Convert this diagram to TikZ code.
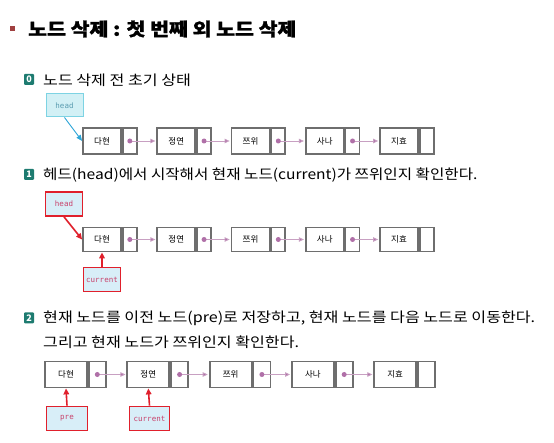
\documentclass[tikz,border=0pt]{standalone}
\usepackage{fontspec}
\setmainfont{Noto Sans CJK KR}
\newfontfamily\stepfont{Noto Sans CJK KR}[FakeStretch=1.15]
\newfontfamily\stepfontb{Noto Sans CJK KR}[FakeStretch=1.115]
\newfontfamily\titlefont{Noto Sans CJK KR}[FakeStretch=1.14, BoldFeatures={FakeBold=1.2}]
\newfontfamily\monof{DejaVu Sans Mono}
\usetikzlibrary{arrows.meta}
\definecolor{boxgray}{HTML}{6E6E6E}
\definecolor{ptrcol}{HTML}{B070A8}
\definecolor{linkcol}{HTML}{C8A0C2}
\definecolor{badgecol}{HTML}{1D7B70}
\definecolor{bulletcol}{HTML}{A04040}
\definecolor{cyanfill}{HTML}{D2F0F5}
\definecolor{cyandraw}{HTML}{7DD3E3}
\definecolor{cyantext}{HTML}{5A9CB0}
\definecolor{cyanarrow}{HTML}{2FA6D8}
\definecolor{redline}{HTML}{E0202C}
\definecolor{bluefill}{HTML}{D8EEF8}
\definecolor{redtext}{HTML}{C8406A}
\tikzset{
  datacell/.style={draw=boxgray, line width=1.8pt, fill=white, inner sep=0pt,
    font=\fontsize{8.5}{9}\selectfont},
  ptrcell/.style={draw=boxgray, line width=1.8pt, fill=white, inner sep=0pt},
  linkarrow/.style={draw=linkcol, line width=0.8pt, -{Triangle[length=5pt,width=4.5pt,fill=ptrcol]}, shorten >=1pt},
  ptrdot/.style={circle, fill=ptrcol, inner sep=0pt, minimum size=5pt},
  cyanbox/.style={draw=cyandraw, fill=cyanfill, line width=1pt, inner sep=0pt,
    minimum width=37pt, minimum height=23pt, text=cyantext, font=\monof\fontsize{7.5}{8}\selectfont},
  redbox/.style={draw=redline, fill=bluefill, line width=1.8pt, inner sep=0pt,
    minimum height=24pt, text=redtext, font=\monof\fontsize{7.5}{8}\selectfont},
  redarrow/.style={draw=redline, line width=1.6pt, -{Triangle[length=6pt,width=5.5pt]}},
  cyanarrowst/.style={draw=cyanarrow, line width=0.9pt, -{Triangle[length=6pt,width=5pt]}},
  badge/.style={fill=badgecol, rounded corners=1pt, minimum width=10pt, minimum height=11pt,
    inner sep=0pt, text=white, font=\fontsize{9}{9}\selectfont\bfseries},
  steptext/.style={anchor=west, inner sep=0pt, font=\stepfont\fontsize{14}{16}\selectfont},
}
\begin{document}
\begin{tikzpicture}[x=1pt,y=-1pt]
\useasboundingbox[fill=white] (0,0) rectangle (554,443);
% title
\fill[bulletcol] (10,26) rectangle (15,31);
\node[anchor=west, inner sep=0pt, font=\titlefont\fontsize{18}{20}\selectfont\bfseries] (title) at (28,29) {노드 삭제 : 첫 번째 외 노드 삭제};
% step 0
\node[badge] (b0) at (29,79.5) {0};
\node[steptext] (t0) at (43,80) {노드 삭제 전 초기 상태};
\foreach \t [count=\i from 0] in {다현,정연,쯔위,사나,지효} {
  \node[datacell, minimum width=38pt, minimum height=26pt] (a\i) at ({83+19+74.25*\i},141) {\t};
  \node[ptrcell, minimum width=14pt, minimum height=26pt, anchor=west] (ap\i) at (a\i.east) {};
}
\foreach \i/\j in {0/1,1/2,2/3,3/4} {
  \draw[linkarrow] (ap\i.center) -- (a\j.west);
  \node[ptrdot] (ad\i) at (ap\i.center) {};
}
\node[cyanbox] (head0) at (64.5,105.5) {head};
\draw[cyanarrowst] (head0.south) -- (a0.west);
% step 1
\node[badge] (b1) at (29,174.5) {1};
\node[steptext, font=\stepfontb\fontsize{14}{16}\selectfont] (t1) at (43,175) {헤드(head)에서 시작해서 현재 노드(current)가 쯔위인지 확인한다.};
\foreach \t [count=\i from 0] in {다현,정연,쯔위,사나,지효} {
  \node[datacell, minimum width=38pt, minimum height=24pt] (b\i) at ({83+19+74.25*\i},239.5) {\t};
  \node[ptrcell, minimum width=14pt, minimum height=24pt, anchor=west] (bp\i) at (b\i.east) {};
}
\foreach \i/\j in {0/1,1/2,2/3,3/4} {
  \draw[linkarrow] (bp\i.center) -- (b\j.west);
  \node[ptrdot] (bd\i) at (bp\i.center) {};
}
\node[redbox, minimum width=37pt] (head1) at (64,204) {head};
\draw[redarrow] (head1.south) -- (b0.west);
\node[redbox, minimum width=37pt] (cur1) at (102,279.5) {current};
\draw[redarrow] (cur1.north) -- (b0.south);
% step 2
\node[badge] (b2) at (29,318) {2};
\node[steptext] (t2a) at (43,318) {현재 노드를 이전 노드(pre)로 저장하고, 현재 노드를 다음 노드로 이동한다.};
\node[steptext] (t2b) at (43,342) {그리고 현재 노드가 쯔위인지 확인한다.};
\foreach \t [count=\i from 0] in {다현,정연,쯔위,사나,지효} {
  \node[datacell, minimum width=42pt, minimum height=26pt] (c\i) at ({45+21+82.3*\i},374.5) {\t};
  \node[ptrcell, minimum width=17pt, minimum height=26pt, anchor=west] (cp\i) at (c\i.east) {};
}
\foreach \i/\j in {0/1,1/2,2/3,3/4} {
  \draw[linkarrow] (cp\i.center) -- (c\j.west);
  \node[ptrdot] (cd\i) at (cp\i.center) {};
}
\node[redbox, minimum width=41pt] (pre2) at (67,418.5) {pre};
\draw[redarrow] (pre2.north) -- (c0.south);
\node[redbox, minimum width=40pt] (cur2) at (149.5,418.5) {current};
\draw[redarrow] (cur2.north) -- (c1.south);
\end{tikzpicture}
\end{document}
